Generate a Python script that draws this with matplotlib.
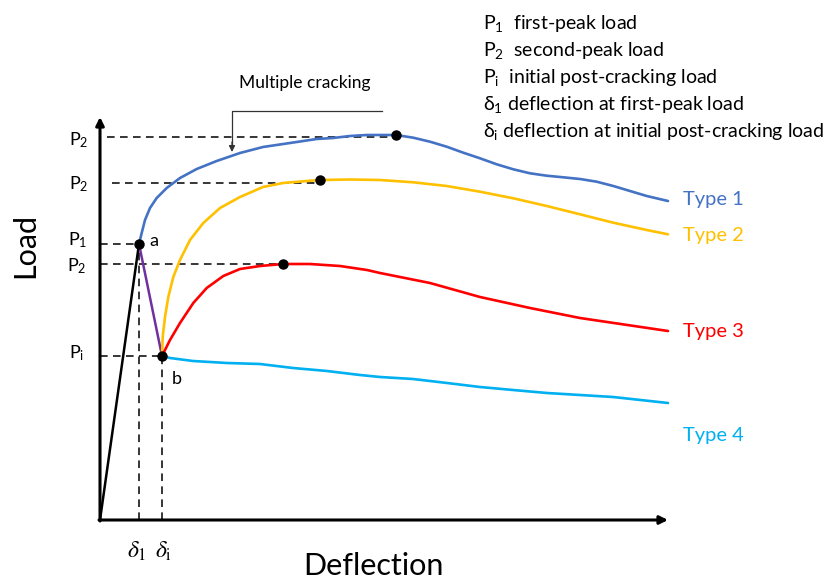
import matplotlib.pyplot as plt

plt.rcParams['font.family'] = ['Lato', 'DejaVu Sans']
plt.rcParams['mathtext.fontset'] = 'custom'
plt.rcParams['mathtext.rm'] = 'Lato'
plt.rcParams['mathtext.it'] = 'Lato:italic'

# characteristic points (deflection, load) in arbitrary units
first_peak = (39, 276)     # point a
post_crack = (62, 164)     # point b
axis_top = 403
axis_end = 568

# post-cracking branches, type 1 starts at a, types 2-4 at b
type1_defl = [39, 41.7, 45, 50, 56.7, 66.7, 80, 96.7, 116.7, 140, 163, 190, 216.7, 233, 250, 267, 296,
              313.3, 330, 346.7, 363.3, 380, 396.7, 413.3, 430, 446.7, 463.3, 480, 496.7, 513.3, 530, 546.7, 568]
type1_load = [276, 287, 300, 312, 322, 332, 342, 351, 359, 367, 373, 377, 381, 382, 384, 385, 385,
              382.3, 378.3, 373.3, 367.3, 361.7, 355.7, 350.7, 346.7, 344.3, 342.7, 341, 338.3, 334, 329, 324, 319]
type2_defl = [62, 62.7, 65, 68.3, 73.3, 80, 90, 103.3, 120, 140, 163, 183, 206.7, 220, 250, 280,
              313.3, 346.7, 380, 413.3, 446.7, 480, 513.3, 546.7, 568]
type2_load = [164, 183, 203, 223, 243, 260, 280, 297, 312, 323, 333, 337, 339, 340, 340.5, 340,
              337.7, 334, 328.3, 321.7, 314, 305.7, 297.3, 290, 285.7]
type3_defl = [62, 70, 80, 93.3, 106.7, 123.3, 140, 160, 183, 210, 240, 267, 280, 330, 380, 430, 480, 568]
type3_load = [164, 180, 197, 217, 232, 244, 251, 254, 256, 256, 254, 250, 247, 237, 223, 212, 202, 189]
type4_defl = [62, 70, 93, 127, 160, 193, 227, 260, 280, 313, 347, 380, 413, 447, 480, 513, 568]
type4_load = [164, 162, 159, 157, 156, 152, 149, 145, 143, 141, 137, 133, 130, 127, 125, 123, 117]

# second peaks
type1_peak = (296, 385)
type2_peak = (220, 340)
type3_peak = (183, 256)

type_names = ['Type 1', 'Type 2', 'Type 3', 'Type 4']
type_colors = ['#4472C4', '#FFC000', '#FF0000', '#00B0F0']
type_label_load = [320, 285, 189, 85]

notes = [r'P$_\mathrm{1}$  first-peak load',
         r'P$_\mathrm{2}$  second-peak load',
         r'P$_\mathrm{i}$  initial post-cracking load',
         r'δ$_\mathrm{1}$ deflection at first-peak load',
         r'δ$_\mathrm{i}$ deflection at initial post-cracking load']

fig = plt.figure(figsize=(8.38, 5.79), dpi=100)
ax = fig.add_axes([0, 0, 1, 1])
ax.set_xlim(-100, 738)
ax.set_ylim(-59, 520)
ax.axis('off')

dash = dict(color='black', lw=1.1, ls=(0, (5, 3.5)))

# guide lines to the axes
ax.plot([7, type1_peak[0]], [type1_peak[1] - 2, type1_peak[1] - 2], **dash)
ax.plot([12, type2_peak[0]], [type2_peak[1] - 3, type2_peak[1] - 3], **dash)
ax.plot([0, type3_peak[0]], [type3_peak[1], type3_peak[1]], **dash)
ax.plot([0, first_peak[0]], [first_peak[1], first_peak[1]], **dash)
ax.plot([0, post_crack[0]], [post_crack[1], post_crack[1]], **dash)
ax.plot([first_peak[0], first_peak[0]], [0, first_peak[1]], **dash)
ax.plot([post_crack[0], post_crack[0]], [0, post_crack[1]], **dash)

# axes with arrow heads
arrow = dict(arrowstyle='-|>', lw=2.2, color='black', mutation_scale=12, shrinkA=0, shrinkB=0)
ax.annotate('', xy=(0, axis_top), xytext=(0, -1), arrowprops=arrow)
ax.annotate('', xy=(axis_end, 0), xytext=(-1, 0), arrowprops=arrow)

# elastic branch and load drop
ax.plot([0, first_peak[0]], [0, first_peak[1]], color='black', lw=1.8)
ax.plot([first_peak[0], post_crack[0]], [first_peak[1], post_crack[1]], color='#7030A0', lw=1.8)

curves = [(type1_defl, type1_load), (type2_defl, type2_load),
          (type3_defl, type3_load), (type4_defl, type4_load)]
for (dx, ly), c in zip(curves, type_colors):
    ax.plot(dx, ly, color=c, lw=1.9, solid_capstyle='round', solid_joinstyle='round')

for name, c, y in zip(type_names, type_colors, type_label_load):
    ax.text(583, y, name, color=c, fontsize=14.5, va='center', ha='left')

pts = [first_peak, post_crack, type1_peak, type2_peak, type3_peak]
ax.plot([p[0] for p in pts], [p[1] for p in pts], 'o', color='black', ms=6.5, zorder=5)

# point and level labels
ax.text(first_peak[0] + 10, first_peak[1] + 3, 'a', fontsize=13, va='center')
ax.text(post_crack[0] + 10, post_crack[1] - 23, 'b', fontsize=13, va='center')
lab = dict(fontsize=13, ha='center', va='center')
ax.text(-21, type1_peak[1] - 5, r'P$_\mathrm{2}$', **lab)
ax.text(-21, type2_peak[1] - 4, r'P$_\mathrm{2}$', **lab)
ax.text(-22, first_peak[1] + 4, r'P$_\mathrm{1}$', **lab)
ax.text(-23, type3_peak[1] - 2, r'P$_\mathrm{2}$', **lab)
ax.text(-23, post_crack[1] + 3, r'P$_\mathrm{i}$', **lab)
ax.text(first_peak[0] - 2, -31, r'$\delta_1$', fontsize=17, ha='center', va='center', math_fontfamily='stix')
ax.text(post_crack[0] + 1, -31, r'$\delta_\mathrm{i}$', fontsize=17, ha='center', va='center', math_fontfamily='stix')

# multiple cracking callout
ax.plot([282, 132, 132], [409, 409, 375], color='#333333', lw=0.9)
ax.annotate('', xy=(132, 368), xytext=(132, 378),
            arrowprops=dict(arrowstyle='-|>', lw=0.9, color='#333333', mutation_scale=9, shrinkA=0, shrinkB=0))
ax.text(205, 437, 'Multiple cracking', fontsize=12.5, ha='center', va='center')

for i, s in enumerate(notes):
    ax.text(383, 496 - 26.8 * i, s, fontsize=14, ha='left', va='center')

ax.text(-75, 275, 'Load', fontsize=22, rotation=90, ha='center', va='center')
ax.text(273, -46, 'Deflection', fontsize=22, ha='center', va='center')

fig.savefig('out.png', dpi=100)
